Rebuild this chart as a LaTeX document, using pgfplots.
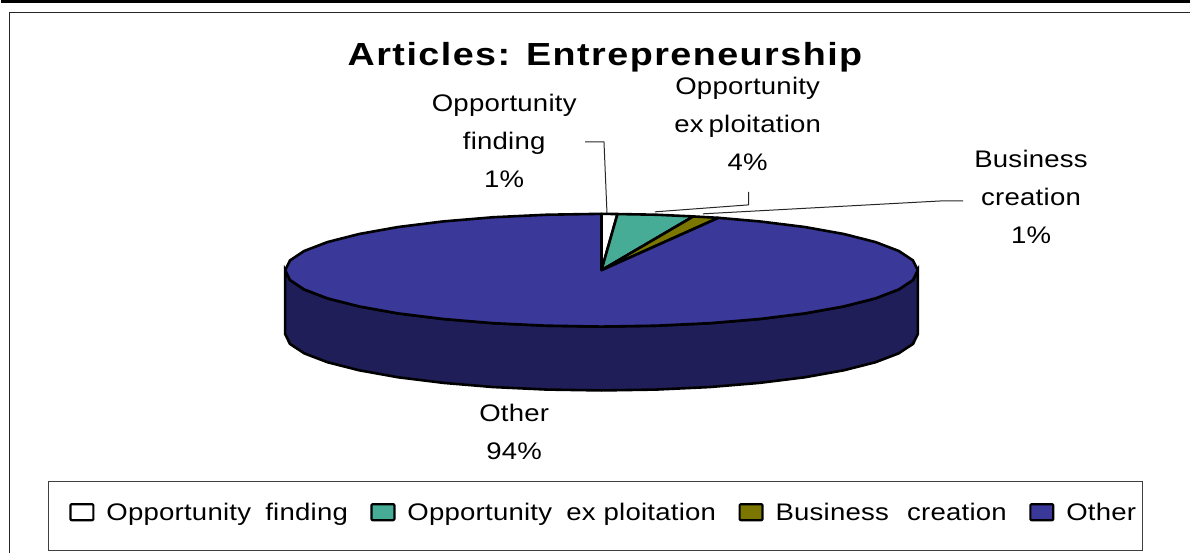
\documentclass[border=0pt]{standalone}
\usepackage{pgfplots}
\pgfplotsset{compat=1.18}
\usepackage{fontspec}
\setmainfont{Liberation Sans}
\newfontfamily\titlefont[LetterSpace=4.6,FakeStretch=1.18]{Liberation Sans}
\newfontfamily\labelfont[LetterSpace=1.0,FakeStretch=1.15,WordSpace=1.8]{Liberation Sans}
\definecolor{otherblue}{RGB}{58,56,152}
\definecolor{otherside}{RGB}{32,30,88}
\definecolor{seagreen}{RGB}{70,172,150}
\definecolor{olivepie}{RGB}{122,118,0}
\begin{document}
\begin{tikzpicture}
\begin{axis}[
  scale only axis, width=1191pt, height=554pt,
  xmin=0, xmax=1191, ymin=0, ymax=554, y dir=reverse,
  hide axis, clip=false,
  legend columns=4,
  legend cell align=left,
  legend style={
    at={(axis cs:68,513)}, anchor=west,
    draw=none, fill=none, inner xsep=0pt, inner ysep=0pt,
    font=\fontsize{24}{28}\selectfont\labelfont,
    /tikz/every even column/.append style={column sep=20.5pt},
  },
  legend image code/.code={
    \draw[#1, line width=2.2pt, rounded corners=1pt] (0pt,-8pt) rectangle (23pt,8pt);
    \path[draw=none, fill=none] (0pt,0pt) -- (34pt,0pt);
  },
]
% Outer rules of the chart area
\addplot[black, line width=2.6pt, forget plot] coordinates {(0,1) (1191,1)};
\addplot[black!85, line width=1.2pt, forget plot] coordinates {(8.5,554) (8.5,12.5) (1191,12.5)};

% Legend frame
\addplot[draw=black!75, line width=1pt, forget plot] coordinates {
 (47.5,482) (1144,482) (1144,551.5) (47.5,551.5)} -- cycle;

% Front wall of the disc
\addplot[fill=otherside, draw=black, line width=2.6pt, forget plot] coordinates {
 (918.5,270.5) (913.7,280.3) (899.4,289.8) (876,298.75) (844.3,306.8) (805.3,313.8)
 (760,319.4) (709.9,323.6) (656.5,326.1) (601.5,327) (546.5,326.1) (493.1,323.6)
 (443,319.4) (397.7,313.8) (358.7,306.8) (327,298.75) (303.6,289.8) (289.3,280.3) (284.5,270.5)
 (284.5,334.5) (289.3,344.3) (303.6,353.8) (327,362.75) (358.7,370.8) (397.7,377.8)
 (443,383.4) (493.1,387.6) (546.5,390.1) (601.5,391) (656.5,390.1) (709.9,387.6)
 (760,383.4) (805.3,377.8) (844.3,370.8) (876,362.75) (899.4,353.8) (913.7,344.3) (918.5,334.5)
} -- cycle;

% Slices: 1% finding, 4% exploitation, 1% creation, 94% other
\addplot[fill=white, draw=black, line width=2.6pt, line join=round] coordinates {
 (601.5,270.5) (601.5,214) (617.5,214.2)} -- cycle;
\addlegendentry{Opportunity finding}
\addplot[fill=seagreen, draw=black, line width=2.6pt, line join=round] coordinates {
 (601.5,270.5) (617.5,214.2) (656.5,214.9) (693.5,216.6)} -- cycle;
\addlegendentry{Opportunity ex\kern8pt ploitation}
\addplot[fill=olivepie, draw=black, line width=2.6pt, line join=round] coordinates {
 (601.5,270.5) (693.5,216.6) (718.7,218)} -- cycle;
\addlegendentry{Business\kern4pt\ creation}
\addplot[fill=otherblue, draw=black, line width=2.6pt, line join=round] coordinates {
 (601.5,270.5) (718.7,218) (760,221.6) (805.3,227.2) (844.3,234.2) (876,242.25) (899.4,251.2) (913.7,260.7)
 (918.5,270.5) (913.7,280.3) (899.4,289.8) (876,298.75) (844.3,306.8) (805.3,313.8)
 (760,319.4) (709.9,323.6) (656.5,326.1) (601.5,327) (546.5,326.1) (493.1,323.6)
 (443,319.4) (397.7,313.8) (358.7,306.8) (327,298.75) (303.6,289.8) (289.3,280.3)
 (284.5,270.5) (289.3,260.7) (303.6,251.2) (327,242.25) (358.7,234.2) (397.7,227.2)
 (443,221.6) (493.1,217.4) (546.5,214.9) (601.5,214)} -- cycle;
\addlegendentry{Other}

% Leader lines
\addplot[black!85, line width=1pt, forget plot] coordinates {(585,142) (604,142) (607,213)};
\addplot[black!85, line width=1pt, forget plot] coordinates {(655,212) (749,205) (749,192)};
\addplot[black!85, line width=1pt, forget plot] coordinates {(703,214) (943,201) (964,201)};

% Title and slice labels
\node[font=\fontsize{32}{38}\selectfont\bfseries\titlefont] at (axis cs:605,57) {Articles: Entrepreneurship};
\tikzset{slicelabel/.style={align=center, font=\fontsize{24}{38}\selectfont\labelfont}}
\node[slicelabel] at (axis cs:504,141) {Opportunity\\finding\\1\%};
\node[slicelabel] at (axis cs:748,124) {Opportunity\\ex\kern5pt ploitation\\4\%};
\node[slicelabel] at (axis cs:1032,197) {Business\\creation\\1\%};
\node[slicelabel] at (axis cs:514,432.5) {Other\\94\%};
\end{axis}
\end{tikzpicture}
\end{document}
